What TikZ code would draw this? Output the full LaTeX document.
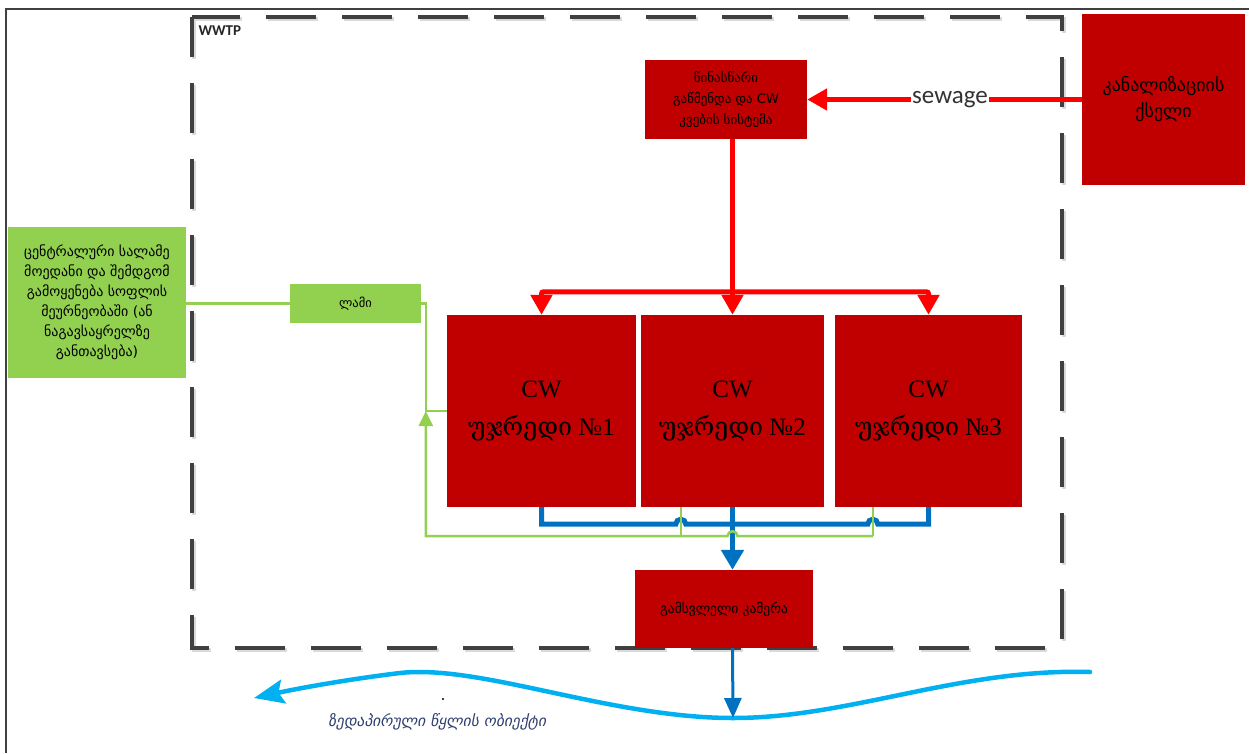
\documentclass[tikz,border=0pt]{standalone}
\usepackage{xcolor}
\usepackage{fontspec}
\setmainfont{Liberation Serif}
\newfontfamily\geofont{DejaVu Sans}
\newfontfamily\geoserif{DejaVu Serif}
\newfontfamily\geoslant[FakeSlant=0.2]{DejaVu Sans}
\newfontfamily\labelfont{Carlito}
\usepackage{tikz}
\usetikzlibrary{arrows.meta,positioning,calc}
\definecolor{boxred}{RGB}{192,0,0}
\definecolor{flowred}{RGB}{255,0,0}
\definecolor{sludgegreen}{RGB}{146,208,80}
\definecolor{effblue}{RGB}{0,112,192}
\definecolor{riverblue}{RGB}{0,176,240}
\definecolor{dashgray}{RGB}{64,64,64}
\definecolor{rivertext}{RGB}{47,62,110}

\tikzset{
    redbox/.style={fill=boxred, inner sep=0pt, align=center, text=black},
    greenbox/.style={fill=sludgegreen, inner sep=0pt, align=center, text=black},
    redflow/.style={draw=flowred, line width=5pt, -{Triangle[length=20pt,width=21pt]}},
    blueflow/.style={draw=effblue, line width=5pt},
    greenflow/.style={draw=sludgegreen, line width=2.5pt},
    riverflow/.style={draw=riverblue, line width=4.5pt, line cap=round, -{Stealth[length=30pt,width=24pt,inset=5pt]}}
}

\begin{document}
\begin{tikzpicture}[x=1pt,y=-1pt]
    \useasboundingbox (0,0) rectangle (1249,753);
    % page frame
    \draw[line width=1.2pt, black!75] (6,753) -- (6,9) -- (1249,9);
    % WWTP boundary
    \draw[line width=4pt, black!15, dash pattern=on 50pt off 26pt, dash phase=10pt] (194,19) rectangle (1064,650);
    \draw[line width=4pt, dashgray, dash pattern=on 50pt off 26pt, dash phase=10pt] (192,17) rectangle (1062,648);
    \node[font=\labelfont\bfseries\fontsize{15}{18}\selectfont, text=black!85, anchor=west] (wwtp) at (195,31) {WWTP};

    % Boxes
    \node[redbox, minimum width=163pt, minimum height=171pt, font=\geofont\fontsize{18}{26}\selectfont] (sewer) at (1163.5,99.5) {კანალიზაციის\\ქსელი};
    \node[redbox, minimum width=162pt, minimum height=79pt, font=\geofont\fontsize{13}{21}\selectfont] (pre) at (726,99.5) {წინასწარი\\გაწმენდა და CW\\კვების სისტემა};
    \node[redbox, minimum width=189pt, minimum height=192pt, font=\fontsize{25}{38}\selectfont] (cellone) at (541.5,411) {CW\\{\geoserif უჯრედი} №1};
    \node[redbox, minimum width=183pt, minimum height=192pt, font=\fontsize{25}{38}\selectfont] (celltwo) at (732.5,411) {CW\\{\geoserif უჯრედი} №2};
    \node[redbox, minimum width=187pt, minimum height=192pt, font=\fontsize{25}{38}\selectfont] (cellthree) at (928.5,411) {CW\\{\geoserif უჯრედი} №3};
    \node[redbox, minimum width=178pt, minimum height=78pt, font=\geofont\fontsize{13.5}{16}\selectfont] (outlet) at (724,609) {გამსვლელი კამერა};
    \node[greenbox, minimum width=131pt, minimum height=39pt, font=\geofont\fontsize{12.5}{14}\selectfont] (lami) at (355.5,303.5) {ლამი};
    \node[greenbox, minimum width=178pt, minimum height=151pt, font=\geofont\fontsize{14}{20}\selectfont] (farm) at (97,302.5) {ცენტრალური სალამე\\მოედანი და შემდგომ\\გამოყენება სოფლის\\მეურნეობაში (ან\\ნაგავსაყრელზე\\განთავსება)};

    % sewage inflow and distribution
    \draw[redflow] (sewer.west) -- node[pos=0.48, fill=white, inner sep=1pt, text=black!80, font=\labelfont\fontsize{25}{27}\selectfont] (sewage) {sewage} (pre.east);
    \coordinate (split) at ($(celltwo.north)+(0,-23)$);
    \draw[redflow] (pre.south -| celltwo.north) -- (celltwo.north);
    \draw[redflow, rounded corners=2pt] (split) -| (cellone.north);
    \draw[redflow, rounded corners=2pt] (split) -| (cellthree.north);

    % effluent collection
    \coordinate (bjoin) at ($(celltwo.south)+(0,17)$);
    \coordinate (gvtwo) at ($(celltwo.south west)+(40,0)$);
    \coordinate (gvthree) at ($(cellthree.south west)+(38,0)$);
    \draw[blueflow] (cellone.south) -- (cellone.south |- bjoin) -- ($(gvtwo |- bjoin)+(-5,0)$) arc[start angle=180, end angle=360, radius=5] -- (bjoin);
    \draw[blueflow] (cellthree.south) -- (cellthree.south |- bjoin) -- ($(gvthree |- bjoin)+(5,0)$) arc[start angle=360, end angle=180, radius=5] -- (bjoin);
    \draw[blueflow, -{Triangle[length=20pt,width=22pt]}] (celltwo.south) -- (celltwo.south |- outlet.north);

    % sludge return
    \coordinate (gbot) at ($(celltwo.south)+(0,29)$);
    \coordinate (gleft) at ($(cellone.south west)+(-21,29)$);
    \draw[greenflow] (gvtwo) -- (gvtwo |- gbot);
    \draw[greenflow] (gvthree) -- (gvthree |- gbot);
    \draw[greenflow, -{Triangle[length=15pt,width=14pt]}] (gvthree |- gbot) -- ($(gbot)+(5,0)$) arc[start angle=360, end angle=180, radius=5] -- (gleft) -- (gleft |- cellone.west);
    \draw[greenflow] (cellone.west) -- (gleft |- cellone.west) |- (lami.east);
    \draw[greenflow] (lami.west) -- (lami.west -| farm.east);

    % receiving water
    \coordinate (riverright) at (1090,672);
    \coordinate (riverlow) at (733,718);
    \draw[riverflow] (riverright) .. controls (960,668) and (850,718) .. (riverlow) .. controls (610,718) and (480,664) .. (400,673) .. controls (350,679) and (300,688) .. (254,698);
    \draw[draw=effblue, line width=3pt, -{Triangle[length=20pt,width=17pt]}] (outlet.south -| celltwo.south) -- (riverlow);
    \fill (443,699) circle (1.2);
    \node[font=\geoslant\fontsize{15.5}{18}\selectfont, text=rivertext] (rivername) at (437,722) {ზედაპირული წყლის ობიექტი};
\end{tikzpicture}
\end{document}
